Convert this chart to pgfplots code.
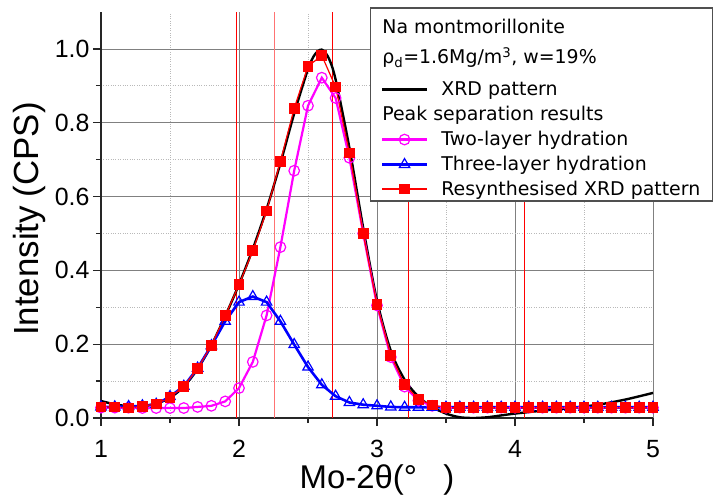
\documentclass[border=0pt]{standalone}
\usepackage{fontspec}
\setmainfont{Liberation Sans}
\newfontfamily\legfont{DejaVu Sans}
\usepackage{pgfplots}
\pgfplotsset{compat=1.18}
\definecolor{gridmaj}{RGB}{128,128,128}
\definecolor{gridmin}{RGB}{185,185,185}
\definecolor{mag}{RGB}{255,0,255}
\definecolor{bl}{RGB}{0,0,255}
\definecolor{rd}{RGB}{255,0,0}
\definecolor{frame}{RGB}{80,80,80}
\newcommand{\rs}[2]{\rule[-#2]{0pt}{\dimexpr#1+#2\relax}}

\pgfplotstableread{
x y
1.0 0.030
1.1 0.030
1.2 0.027
1.3 0.032
1.4 0.038
1.5 0.056
1.6 0.086
1.7 0.134
1.8 0.197
1.9 0.277
2.0 0.361
2.1 0.453
2.2 0.561
2.3 0.695
2.4 0.839
2.5 0.953
2.6 0.982
2.7 0.897
2.8 0.718
2.9 0.500
3.0 0.307
3.1 0.170
3.2 0.090
3.3 0.051
3.4 0.035
3.5 0.028
3.6 0.028
3.7 0.028
3.8 0.028
3.9 0.028
4.0 0.028
4.1 0.028
4.2 0.028
4.3 0.028
4.4 0.028
4.5 0.028
4.6 0.028
4.7 0.028
4.8 0.028
4.9 0.028
5.0 0.028
}\resynth

\pgfplotstableread{
x y
1.0 0.028
1.1 0.028
1.2 0.028
1.3 0.027
1.4 0.027
1.5 0.027
1.6 0.027
1.7 0.030
1.8 0.033
1.9 0.045
2.0 0.081
2.1 0.152
2.2 0.278
2.3 0.463
2.4 0.670
2.5 0.846
2.6 0.922
2.7 0.867
2.8 0.705
2.9 0.500
3.0 0.305
3.1 0.165
3.2 0.085
3.3 0.047
3.4 0.033
3.5 0.028
3.6 0.028
3.7 0.028
3.8 0.028
3.9 0.028
4.0 0.028
4.1 0.028
4.2 0.028
4.3 0.028
4.4 0.028
4.5 0.028
4.6 0.028
4.7 0.028
4.8 0.028
4.9 0.028
5.0 0.028
}\twolayer

\pgfplotstableread{
x y
1.0 0.030
1.1 0.030
1.2 0.031
1.3 0.033
1.4 0.037
1.5 0.058
1.6 0.086
1.7 0.135
1.8 0.196
1.9 0.262
2.0 0.314
2.1 0.329
2.2 0.314
2.3 0.262
2.4 0.199
2.5 0.138
2.6 0.090
2.7 0.059
2.8 0.042
2.9 0.036
3.0 0.033
3.1 0.030
3.2 0.029
3.3 0.029
3.4 0.029
3.5 0.029
3.6 0.029
3.7 0.029
3.8 0.029
3.9 0.029
4.0 0.029
4.1 0.029
4.2 0.029
4.3 0.029
4.4 0.029
4.5 0.029
4.6 0.029
4.7 0.029
4.8 0.029
4.9 0.029
5.0 0.029
}\threelayer

\pgfplotstableread{
x y
1.0 0.046
1.1 0.037
1.2 0.032
1.3 0.032
1.4 0.039
1.5 0.055
1.6 0.085
1.7 0.133
1.8 0.197
1.9 0.276
2.0 0.362
2.1 0.458
2.2 0.566
2.3 0.690
2.4 0.825
2.5 0.945
2.55 0.985
2.6 0.998
2.65 0.975
2.7 0.917
2.8 0.732
2.9 0.515
3.0 0.318
3.1 0.182
3.2 0.104
3.3 0.058
3.4 0.030
3.5 0.012
3.6 0.002
3.7 0.000
3.8 0.002
3.9 0.007
4.0 0.012
4.2 0.020
4.4 0.027
4.6 0.036
4.8 0.050
5.0 0.068
}\xrd

\begin{document}
\begin{tikzpicture}
\useasboundingbox (-101bp,-79bp) rectangle (619bp,418bp);
\begin{axis}[
  at={(0,0)}, anchor=south west,
  scale only axis, width=552bp, height=406bp,
  xmin=1, xmax=5, ymin=0, ymax=1.1,
  axis x line=bottom, axis y line=left,
  axis line style={-, line width=1.5bp, black!85},
  xtick={1,2,3,4,5}, ytick={0,0.2,0.4,0.6,0.8,1.0},
  minor x tick num=1, minor y tick num=1,
  tick align=outside, major tick length=8bp, minor tick length=5bp,
  every tick/.style={black!85, line width=1.2bp},
  grid=both,
  major grid style={draw=gridmaj, line width=0.8bp},
  minor grid style={draw=gridmin, dotted, line width=0.8bp},
  /pgf/number format/assume math mode=true,
  ticklabel style={font=\fontsize{25}{30}\selectfont},
  xticklabel style={yshift=-11bp},
  yticklabel style={/pgf/number format/.cd, fixed, fixed zerofill, precision=1},
  xlabel={Mo-2θ(°\hspace{0.8em})},
  ylabel={Intensity\hspace{0.25em}(CPS)},
  label style={font=\fontsize{33}{40}\selectfont},
  y label style={font=\fontsize{35}{40}\selectfont},
  x label style={at={(rel axis cs:0.5,0)}, anchor=base, yshift=-70bp},
  y label style={at={(rel axis cs:0,0.49)}, anchor=center, yshift=72bp},
  legend cell align=left,
  legend image code/.code={\draw[mark repeat=2,mark phase=2,#1] plot coordinates {(0bp,0bp) (22.5bp,0bp) (45bp,0bp)};},
  legend style={at={(rel axis cs:0.4873,1.0123)}, anchor=north west,
    draw=frame, line width=1.5bp, fill=white,
    inner xsep=10bp, inner ysep=0bp,
    nodes={inner sep=2bp, text depth=},
    font=\legfont\fontsize{19}{22}\selectfont,
    row sep=0bp,
    /tikz/every odd column/.append style={column sep=11bp}},
]
\addplot[rd, line width=1bp, forget plot] coordinates {(1.98,0) (1.98,1.1)};
\addplot[rd!55, line width=1bp, forget plot] coordinates {(2.26,0) (2.26,1.1)};
\addplot[rd, line width=1bp, forget plot] coordinates {(2.68,0) (2.68,1.1)};
\addplot[rd, line width=1bp, forget plot] coordinates {(3.23,0) (3.23,1.1)};
\addplot[rd, line width=1bp, forget plot] coordinates {(4.07,0) (4.07,1.1)};

\addlegendimage{empty legend}\addlegendentry{\rs{23.7bp}{5bp}\hspace{-59bp}Na montmorillonite}
\addlegendimage{empty legend}\addlegendentry{\rs{21bp}{11.6bp}\hspace{-59bp}ρ\textsubscript{d}=1.6Mg/m\textsuperscript{3}, w=19\%}
\addplot[black, line width=2.4bp, smooth, no markers] table {\xrd};
\addlegendentry{\rs{16bp}{5bp}XRD pattern}
\addlegendimage{empty legend}\addlegendentry{\rs{16bp}{5bp}\hspace{-59bp}Peak separation results}
\addplot[mag, line width=2.2bp, mark=o, mark size=5.3bp, mark options={fill=white, line width=1.2bp}] table {\twolayer};
\addlegendentry{\rs{16bp}{5bp}Two-layer hydration}
\addplot[bl, line width=2.6bp, mark=triangle, mark size=6bp, mark options={fill=white, line width=1.2bp}] table {\threelayer};
\addlegendentry{\rs{16bp}{5bp}Three-layer hydration}
\addplot[rd, line width=1.2bp, mark=square*, mark size=4.8bp] table {\resynth};
\addlegendentry{\rs{16bp}{4bp}Resynthesised XRD pattern\hspace{30bp}}
\end{axis}
\end{tikzpicture}
\end{document}
